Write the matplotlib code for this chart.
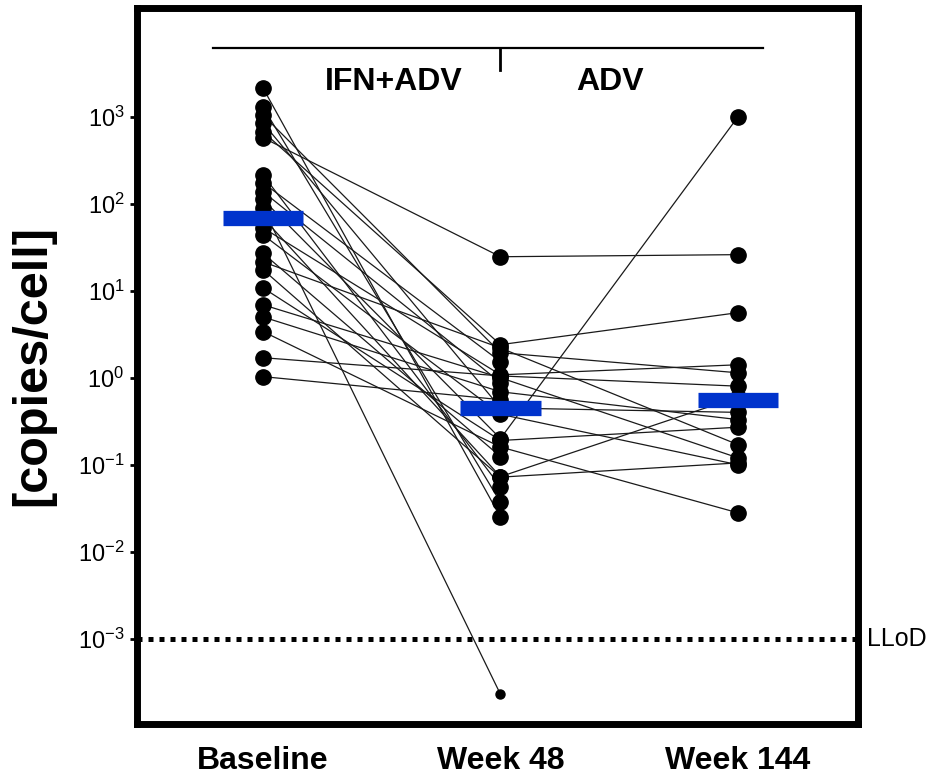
import numpy as np
import matplotlib
matplotlib.use("Agg")
import matplotlib.pyplot as plt
import matplotlib.transforms as mtransforms

plt.rcParams['font.family'] = ['Liberation Sans', 'DejaVu Sans']
plt.rcParams['mathtext.fontset'] = 'custom'
plt.rcParams['mathtext.rm'] = 'Liberation Sans'
plt.rcParams['mathtext.it'] = 'Liberation Sans'

# ---- data (copies/cell) ----
timepoints = ["Baseline", "Week 48", "Week 144"]
baseline = [2150, 1300, 1050, 850, 675, 575, 215, 175, 138, 112, 90, 69, 53, 44,
            27, 21.5, 17.5, 10.8, 6.9, 5.0, 3.4, 1.7, 1.03]
week48 = [0.025, 0.037, 1.94, 0.45, 2.4, 24.6, 0.056, 1.53, 0.88, 0.2, 2.3e-4, 0.073,
          1.08, 0.38, 0.124, 2.2, 0.072, 0.19, 1.0, 0.69, 0.16, 1.05, 0.56]
week144 = [np.nan, np.nan, 1.14, 0.40, 5.6, 26, np.nan, np.nan, np.nan, 1000, np.nan, 0.6,
           1.41, 0.10, np.nan, 0.17, 0.105, 0.27, 0.12, 0.33, 0.028, 0.8, np.nan]
central = [68, 0.45, 0.55]
lod = 1e-3
phases = ["IFN+ADV", "ADV"]

fig = plt.figure(figsize=(9.28, 7.76), dpi=100)
ax = fig.add_axes([137/928, 1-724/776, (858-137)/928, (724-8)/776])

xs = np.arange(len(timepoints))
data = np.array([baseline, week48, week144], dtype=float)

# connecting lines
for j in range(data.shape[1]):
    ax.plot(xs, data[:, j], color='#1a1a1a', lw=0.9, zorder=2)

# dots
for i in range(3):
    vals = data[i]
    vals = vals[~np.isnan(vals)]
    big = vals[vals >= lod]
    small = vals[vals < lod]
    ax.plot(np.full(len(big), xs[i]), big, 'o', color='black', ms=11, zorder=3)
    ax.plot(np.full(len(small), xs[i]), small, 'o', color='black', ms=6.5, zorder=3)

# central bars
ax.hlines(central, xs - 0.17, xs + 0.17, colors='#0033cc', lw=11, zorder=4,
          capstyle='butt')

# LLoD
ax.axhline(lod, color='black', lw=3.6, linestyle=(0, (1, 1.2)), zorder=1)
ax.text(1.013, lod, "LLoD", transform=mtransforms.blended_transform_factory(ax.transAxes, ax.transData),
        ha='left', va='center', fontsize=18, clip_on=False)

ax.set_yscale('log')
ax.set_ylim(10**-3.98, 10**4.25)
ax.set_xlim(-0.53, 2.505)
ax.set_yticks([10.0**k for k in range(-3, 4)])
ax.set_yticklabels([r'$10^{%d}$' % k for k in range(-3, 4)], fontsize=17)
ax.yaxis.set_minor_locator(matplotlib.ticker.NullLocator())
ax.tick_params(axis='y', direction='out', length=5, width=2, pad=4)
ax.set_xticks(xs)
ax.set_xticklabels(timepoints, fontsize=23, fontweight='bold')
ax.tick_params(axis='x', length=0, pad=16)
for s in ax.spines.values():
    s.set_linewidth(5)

ax.set_ylabel("[copies/cell]", fontsize=35, fontweight='bold', labelpad=16)

# top bracket
trans = mtransforms.blended_transform_factory(ax.transData, ax.transAxes)
ax.plot([-0.21, 2.105], [0.944, 0.944], color='black', lw=1.6, transform=trans, clip_on=False)
ax.plot([1.0, 1.0], [0.944, 0.913], color='black', lw=2, transform=trans, clip_on=False)
ax.text(0.55, 0.897, phases[0], transform=trans, ha='center', va='center',
        fontsize=23, fontweight='bold')
ax.text(1.46, 0.897, phases[1], transform=trans, ha='center', va='center',
        fontsize=23, fontweight='bold')

fig.savefig("out.png", dpi=100)
